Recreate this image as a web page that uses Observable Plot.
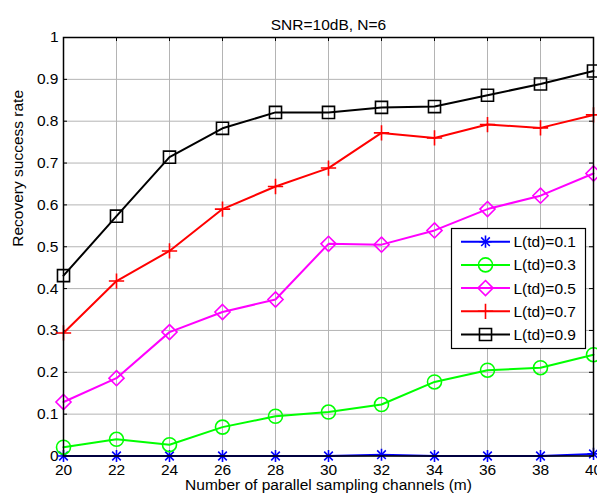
<!DOCTYPE html>
<html><head><meta charset="utf-8">
<script src="https://cdn.jsdelivr.net/npm/d3@7"></script>
<script src="https://cdn.jsdelivr.net/npm/@observablehq/plot@0.6"></script>
<style>
body{margin:0;background:#fff;}
#wrap{position:relative;width:597px;height:500px;font-family:"Liberation Sans",Arial,sans-serif;overflow:hidden;}
#legend{position:absolute;left:0;top:0;}
</style></head><body><div id="wrap"></div>
<script>
const titleText = "SNR=10dB, N=6";
const xLabel = "Number of parallel sampling channels (m)";
const yLabel = "Recovery success rate";
const channels = [20, 22, 24, 26, 28, 30, 32, 34, 36, 38, 40];
const seriesNames = ["L(td)=0.1", "L(td)=0.3", "L(td)=0.5", "L(td)=0.7", "L(td)=0.9"];
const rate01 = [0, 0, 0, 0, 0, 0, 0.003, 0, 0, 0, 0.005];
const rate03 = [0.021, 0.040, 0.027, 0.069, 0.095, 0.105, 0.123, 0.177, 0.205, 0.211, 0.242];
const rate05 = [0.129, 0.186, 0.296, 0.344, 0.374, 0.507, 0.505, 0.539, 0.590, 0.622, 0.675];
const rate07 = [0.294, 0.418, 0.490, 0.590, 0.644, 0.688, 0.772, 0.760, 0.792, 0.784, 0.815];
const rate09 = [0.431, 0.573, 0.714, 0.783, 0.821, 0.821, 0.833, 0.835, 0.862, 0.889, 0.920];
const xTicks = [20, 22, 24, 26, 28, 30, 32, 34, 36, 38, 40];
const yTicks = [0, 0.1, 0.2, 0.3, 0.4, 0.5, 0.6, 0.7, 0.8, 0.9, 1];
const yTickLabels = ["0", "0.1", "0.2", "0.3", "0.4", "0.5", "0.6", "0.7", "0.8", "0.9", "1"];
const colors = ["#0000ff", "#00ff00", "#ff00ff", "#ff0000", "#000000"];
// each series' marker is one or more overlaid Plot symbols (MATLAB '*' = plus + times)
const symbolSets = [["plus", "times"], ["circle"], ["diamond2"], ["plus"], ["square"]];
const markerR = [[4, 4], [7], [6.8], [5], [6.8]];

const seriesValues = [rate01, rate03, rate05, rate07, rate09];
const FS = 15.5;
const W = 597, H = 500, mL = 63, mR = 4, mT = 37, mB = 44.5;
const plotW = W - mL - mR, plotH = H - mT - mB, TICK = 4;

const lineMarks = [];
seriesValues.forEach((vals, s) => {
  const rows = channels.map((m, i) => ({m, rate: vals[i]}));
  lineMarks.push(Plot.line(rows, {x: "m", y: "rate", stroke: colors[s], strokeWidth: 2}));
  symbolSets[s].forEach((sym, k) => {
    lineMarks.push(Plot.dot(rows, {x: "m", y: "rate", symbol: sym, r: markerR[s][k], stroke: colors[s], fill: "none", strokeWidth: 1.6}));
  });
});

const chart = Plot.plot({
  width: W, height: H,
  marginLeft: mL, marginRight: mR, marginTop: mT, marginBottom: mB,
  style: {fontFamily: '"Liberation Sans", Arial, sans-serif', fontSize: FS + "px", color: "#000", background: "#fff"},
  x: {domain: [20, 40]},
  y: {domain: [0, 1]},
  marks: [
    Plot.gridX(xTicks, {stroke: "#b4b4b4", strokeOpacity: 1}),
    Plot.gridY(yTicks, {stroke: "#b4b4b4", strokeOpacity: 1}),
    Plot.axisX(xTicks, {anchor: "bottom", tickSize: 0, tickPadding: 7.5, label: null, fontSize: FS}),
    Plot.axisY(yTicks, {anchor: "left", tickSize: 0, tickPadding: 5, label: null, fontSize: FS, tickFormat: (d, i) => yTickLabels[i]}),
    // inward tick marks on all four sides
    Plot.ruleX(xTicks, {x: d => d, insetTop: plotH - TICK, stroke: "#000"}),
    Plot.ruleX(xTicks, {x: d => d, insetBottom: plotH - TICK, stroke: "#000"}),
    Plot.ruleY(yTicks, {y: d => d, insetRight: plotW - TICK, stroke: "#000"}),
    Plot.ruleY(yTicks, {y: d => d, insetLeft: plotW - TICK, stroke: "#000"}),
    ...lineMarks,
    Plot.frame({stroke: "#000", strokeWidth: 1.5}),
    Plot.text([titleText], {frameAnchor: "top", dy: -19, fontSize: FS, fill: "#000"}),
    Plot.text([xLabel], {frameAnchor: "bottom", dy: 34, fontSize: FS, fill: "#000"}),
    Plot.text([yLabel], {frameAnchor: "left", dx: -45, rotate: -90, fontSize: FS, fill: "#000"})
  ]
});
const wrap = document.getElementById("wrap");
wrap.appendChild(chart);

// Legend overlay (MATLAB-style box)
const symbolTypes = {times: d3.symbolTimes, circle: d3.symbolCircle, diamond2: d3.symbolDiamond2, plus: d3.symbolPlus, square: d3.symbolSquare};
const lg = {left: 451.5, top: 228.5, w: 134, h: 120, row0: 13.2, rowStep: 23.2, lineX1: 9.5, lineX2: 58.5, textX: 62};
const svg = d3.select(wrap).append("svg").attr("id", "legend")
  .attr("width", W).attr("height", H)
  .style("font-family", '"Liberation Sans", Arial, sans-serif');
const g = svg.append("g").attr("transform", `translate(${lg.left},${lg.top})`);
g.append("rect").attr("width", lg.w).attr("height", lg.h).attr("fill", "#fff").attr("stroke", "#000").attr("stroke-width", 1.2);
seriesNames.forEach((name, s) => {
  const cy = lg.row0 + s * lg.rowStep;
  g.append("line").attr("x1", lg.lineX1).attr("x2", lg.lineX2).attr("y1", cy).attr("y2", cy)
    .attr("stroke", colors[s]).attr("stroke-width", 2);
  const cx = (lg.lineX1 + lg.lineX2) / 2;
  symbolSets[s].forEach((sym, k) => {
    const r = markerR[s][k];
    g.append("path").attr("transform", `translate(${cx},${cy})`)
      .attr("d", d3.symbol(symbolTypes[sym], Math.PI * r * r)())
      .attr("fill", "none").attr("stroke", colors[s]).attr("stroke-width", 1.6);
  });
  g.append("text").attr("x", lg.textX).attr("y", cy).attr("dy", "0.35em")
    .attr("font-size", FS).attr("fill", "#000").text(name);
});
</script>
</body></html>
